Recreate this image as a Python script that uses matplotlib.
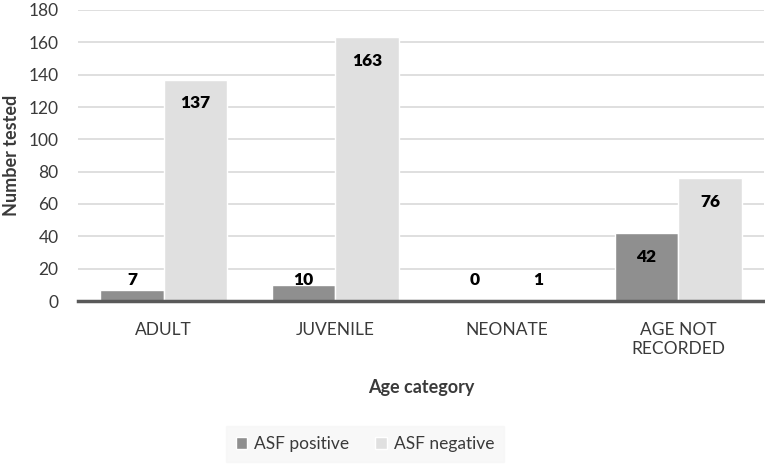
import matplotlib.pyplot as plt
import numpy as np

categories = ['ADULT', 'JUVENILE', 'NEONATE', 'AGE NOT\nRECORDED']
asf_positive = [7, 10, 0, 42]
asf_negative = [137, 163, 1, 76]
yticks = [0, 20, 40, 60, 80, 100, 120, 140, 160, 180]

plt.rcParams['font.family'] = ['Lato', 'DejaVu Sans']
txt = '#3a3a3a'

fig = plt.figure(figsize=(7.65, 4.66), dpi=100)
ax = fig.add_axes([78/765, 1 - 301/466, 686/765, 291/466])

x = np.arange(len(categories))
w = 0.37
pos_bars = ax.bar(x - w/2, asf_positive, w, color='#8f8f8f', edgecolor='white',
                  linewidth=1, label='ASF positive', zorder=3)
neg_bars = ax.bar(x + w/2, asf_negative, w, color='#e0e0e0', edgecolor='white',
                  linewidth=1, label='ASF negative', zorder=3)

# Excel style "inside end" labels, pushed up when the bar is too short
for xs, vals in [(x - w/2, asf_positive), (x + w/2, asf_negative)]:
    for xi, v in zip(xs, vals):
        ax.text(xi, max(v - 14.8, 13), str(v), ha='center', va='center',
                fontsize=12.5, fontweight='heavy', color='black', zorder=4)

ax.set_xlim(-0.5, len(categories) - 0.5)
ax.set_ylim(0, 180)
ax.set_yticks(yticks)
ax.yaxis.grid(True, color='#d9d9d9', linewidth=1.2, zorder=0)
ax.set_axisbelow(True)
for s in ['top', 'right', 'left']:
    ax.spines[s].set_visible(False)
ax.spines['bottom'].set_color('#595959')
ax.spines['bottom'].set_linewidth(2.5)
ax.spines['bottom'].set_zorder(5)
ax.tick_params(axis='both', length=0, labelsize=12.5, labelcolor=txt)
ax.tick_params(axis='y', pad=14)
ax.tick_params(axis='x', pad=15)
ax.set_xticks(x)
ax.set_xticklabels(categories, linespacing=1.25)

ax.set_ylabel('Number tested', fontsize=13, fontweight='bold', color=txt, labelpad=6)
ax.set_xlabel('Age category', fontsize=13, fontweight='bold', color=txt, labelpad=16)

leg = fig.legend(loc='center', bbox_to_anchor=(365/765, 1 - 444/466), ncol=2,
                 frameon=True, fontsize=12.5, handlelength=0.65, handleheight=0.65,
                 handletextpad=0.4, columnspacing=1.5, borderpad=0.55,
                 fancybox=False)
leg.get_frame().set_facecolor('#f7f7f7')
leg.get_frame().set_edgecolor('#f7f7f7')
for t in leg.get_texts():
    t.set_color(txt)

fig.savefig('out.png', dpi=100)
